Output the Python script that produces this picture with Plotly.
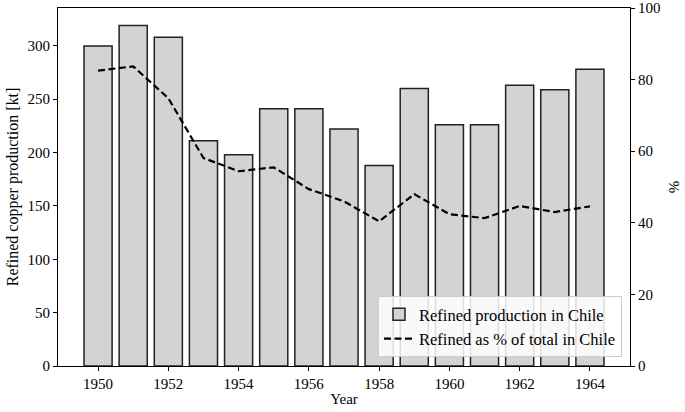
import plotly.graph_objects as go

years = list(range(1950, 1965))
refined_kt = [300, 319, 308, 211, 198, 241, 241, 222, 188, 260, 226, 226, 263, 259, 278]
refined_pct = [82.5, 83.7, 74.8, 58.1, 54.4, 55.5, 49.4, 46.0, 40.4, 48.0, 42.4, 41.3, 44.7, 43.0, 44.6]
xticks = [1950, 1952, 1954, 1956, 1958, 1960, 1962, 1964]

serif = "Liberation Serif, Times New Roman, serif"
font = dict(family=serif, size=15, color="black")
tickfont = dict(family=serif, size=15, color="black")

fig = go.Figure()
fig.add_trace(go.Bar(
    x=years, y=refined_kt, width=0.8,
    marker=dict(color="#d3d3d3", line=dict(color="#222222", width=1.5)),
    name="Refined production in Chile", yaxis="y",
))
fig.add_trace(go.Scatter(
    x=years, y=refined_pct, mode="lines",
    line=dict(color="black", width=2.2, dash="7px,3.5px"),
    name="Refined as % of total in Chile", yaxis="y2",
))

fig.update_layout(
    width=685, height=412,
    margin=dict(l=58, r=55, t=8, b=46),
    paper_bgcolor="white", plot_bgcolor="white",
    font=font,
    showlegend=True,
    xaxis=dict(
        range=[1948.86, 1965.14], tickvals=xticks, ticktext=[str(v) for v in xticks],
        showline=True, linecolor="black", linewidth=1, mirror=True,
        ticks="outside", ticklen=4, tickcolor="black", showgrid=False, zeroline=False,
        tickfont=tickfont, automargin=False,
        title=dict(text="Year", standoff=2, font=dict(family=serif, size=15, color="black")),
    ),
    yaxis=dict(
        range=[0, 335.5], tickvals=[0, 50, 100, 150, 200, 250, 300],
        showline=True, linecolor="black", linewidth=1,
        ticks="outside", ticklen=4, tickcolor="black", showgrid=False, zeroline=False,
        tickfont=tickfont, automargin=False, ticklabeloverflow="allow",
        title=dict(text="Refined copper production [kt]", standoff=4,
                   font=dict(family=serif, size=16, color="black")),
    ),
    yaxis2=dict(
        range=[0, 100], tickvals=[0, 20, 40, 60, 80, 100], overlaying="y", side="right",
        showline=True, linecolor="black", linewidth=1,
        ticks="outside", ticklen=4, tickcolor="black", showgrid=False, zeroline=False,
        tickfont=tickfont, automargin=False, ticklabeloverflow="allow",
        title=dict(text="%", standoff=8, font=dict(family=serif, size=15, color="black")),
    ),
    legend=dict(
        x=0.986, y=0.025, xanchor="right", yanchor="bottom",
        bgcolor="rgba(255,255,255,0.85)", bordercolor="#cccccc", borderwidth=1,
        font=dict(family=serif, size=16.5, color="black"),
        tracegroupgap=2,
    ),
)

fig.write_html("out.html", config={"displayModeBar": False},
               post_script="document.body.style.margin='0';")
